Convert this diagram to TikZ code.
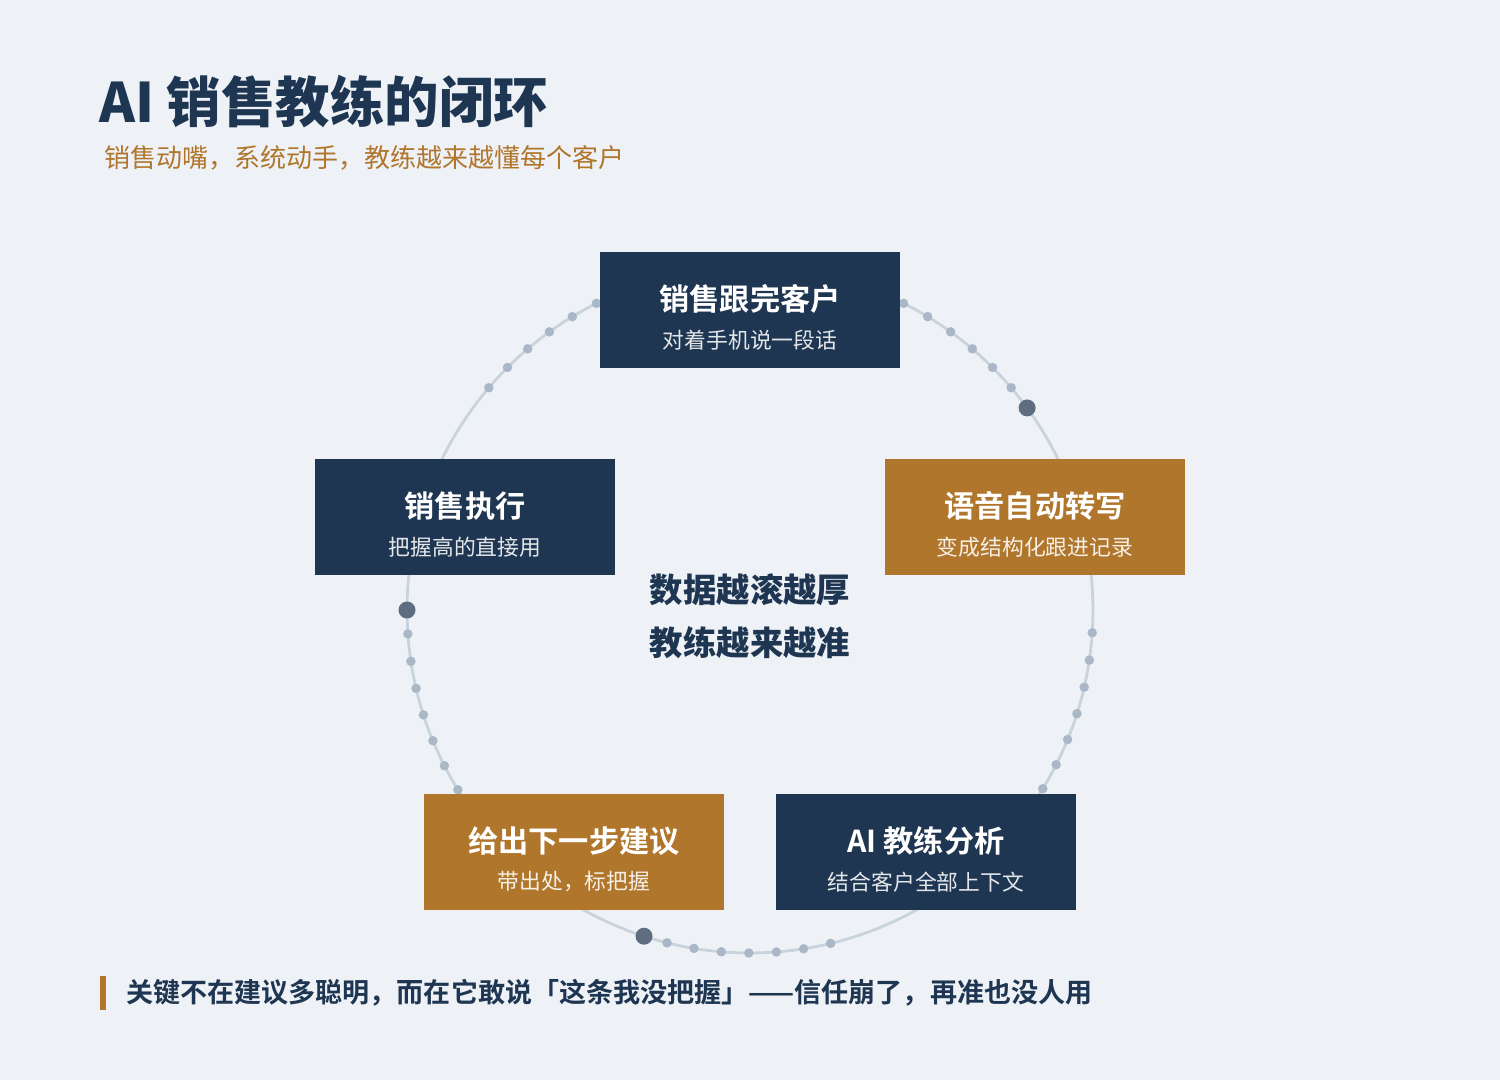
\documentclass[tikz,border=0pt]{standalone}
\usepackage{fontspec}
\setmainfont{Noto Sans CJK SC}
\newfontfamily\cjkbold{Noto Sans CJK SC Bold}
\newfontfamily\cjkblack{Noto Sans CJK SC Black}
\usetikzlibrary{positioning}
\definecolor{navy}{HTML}{1F3652}
\definecolor{ochre}{HTML}{B0762C}
\definecolor{paper}{HTML}{EEF2F7}
\definecolor{ring}{HTML}{C9D3DC}
\definecolor{dotc}{HTML}{A9B7C6}
\definecolor{bigdot}{HTML}{5E6E80}
\newcommand{\stagebox}[6]{%
  \node[#2] (#1) at (#3){};
  \node[stagehead] (#1-head) at ([yshift=6.2pt]#1.center){#4};
  \node[stagesub,text=white!88!#6] (#1-sub) at ([yshift=-17pt]#1.center){#5};}
\begin{document}
\begin{tikzpicture}
		[	x=0.02cm,y=-0.02cm,
		stage/.style={rectangle,minimum width=6cm,minimum height=2.32cm,inner sep=0pt},
		navybox/.style={stage,fill=navy},
		ochrebox/.style={stage,fill=ochre},
		stagehead/.style={text=white,inner sep=0pt,font=\cjkbold\fontsize{17.2}{20}\selectfont},
		stagesub/.style={inner sep=0pt,font=\fontsize{12.4}{14}\selectfont},
		small/.style={circle,fill=dotc,inner sep=0pt,minimum size=0.19cm},
		big/.style={circle,fill=bigdot,inner sep=0pt,minimum size=0.34cm}
		]
		\fill[paper] (0,0) rectangle (1500,1080);
		\draw[ring,line width=1.6pt] (750,610) circle[radius=6.86cm];

		% dots along the ring
		\foreach \a in {63.4,58.8,...,40} \node[small] at ({750+343*cos(\a)},{610-343*sin(\a)}){};
		\foreach \a in {116.6,121.2,...,142} \node[small] at ({750+343*cos(\a)},{610-343*sin(\a)}){};
		\foreach \a in {-3.8,-8.4,...,-33} \node[small] at ({750+343*cos(\a)},{610-343*sin(\a)}){};
		\foreach \a in {-104,-99.4,...,-75} \node[small] at ({750+343*cos(\a)},{610-343*sin(\a)}){};
		\foreach \a in {184,188.6,...,213} \node[small] at ({750+343*cos(\a)},{610-343*sin(\a)}){};
		\node[big] (d1) at ({750+343*cos(36.1)},{610-343*sin(36.1)}){};
		\node[big] (d2) at ({750+343*cos(-108)},{610-343*sin(-108)}){};
		\node[big] (d3) at (407,610){};

		\stagebox{talk}{navybox}{750,310}{销售跟完客户}{对着手机说一段话}{navy}
		\stagebox{asr}{ochrebox}{1035,517}{语音自动转写}{变成结构化跟进记录}{ochre}
		\stagebox{coach}{navybox}{926,852}{AI 教练分析}{结合客户全部上下文}{navy}
		\stagebox{advice}{ochrebox}{574,852}{给出下一步建议}{带出处，标把握}{ochre}
		\stagebox{act}{navybox}{465,517}{销售执行}{把握高的直接用}{navy}

		\node[text=navy,align=center,font=\cjkblack\fontsize{19}{30}\selectfont] (hub) at (750,616){数据越滚越厚\\教练越来越准};

		\node[anchor=west,text=navy,inner sep=0pt,font=\cjkblack\fontsize{31}{36}\selectfont] (title) at (99,102){AI 销售教练的闭环};
		\node[anchor=west,text=ochre,inner sep=0pt,font=\fontsize{14.8}{16}\selectfont] (sub) at (104,158){销售动嘴，系统动手，教练越来越懂每个客户};
		\fill[ochre] (100,976) rectangle (106,1010);
		\node[anchor=west,text=navy,inner sep=0pt,font=\cjkbold\fontsize{15.4}{18}\selectfont] (note) at (126,993){关键不在建议多聪明，而在它敢说「这条我没把握」——信任崩了，再准也没人用};
	\end{tikzpicture}
\end{document}
